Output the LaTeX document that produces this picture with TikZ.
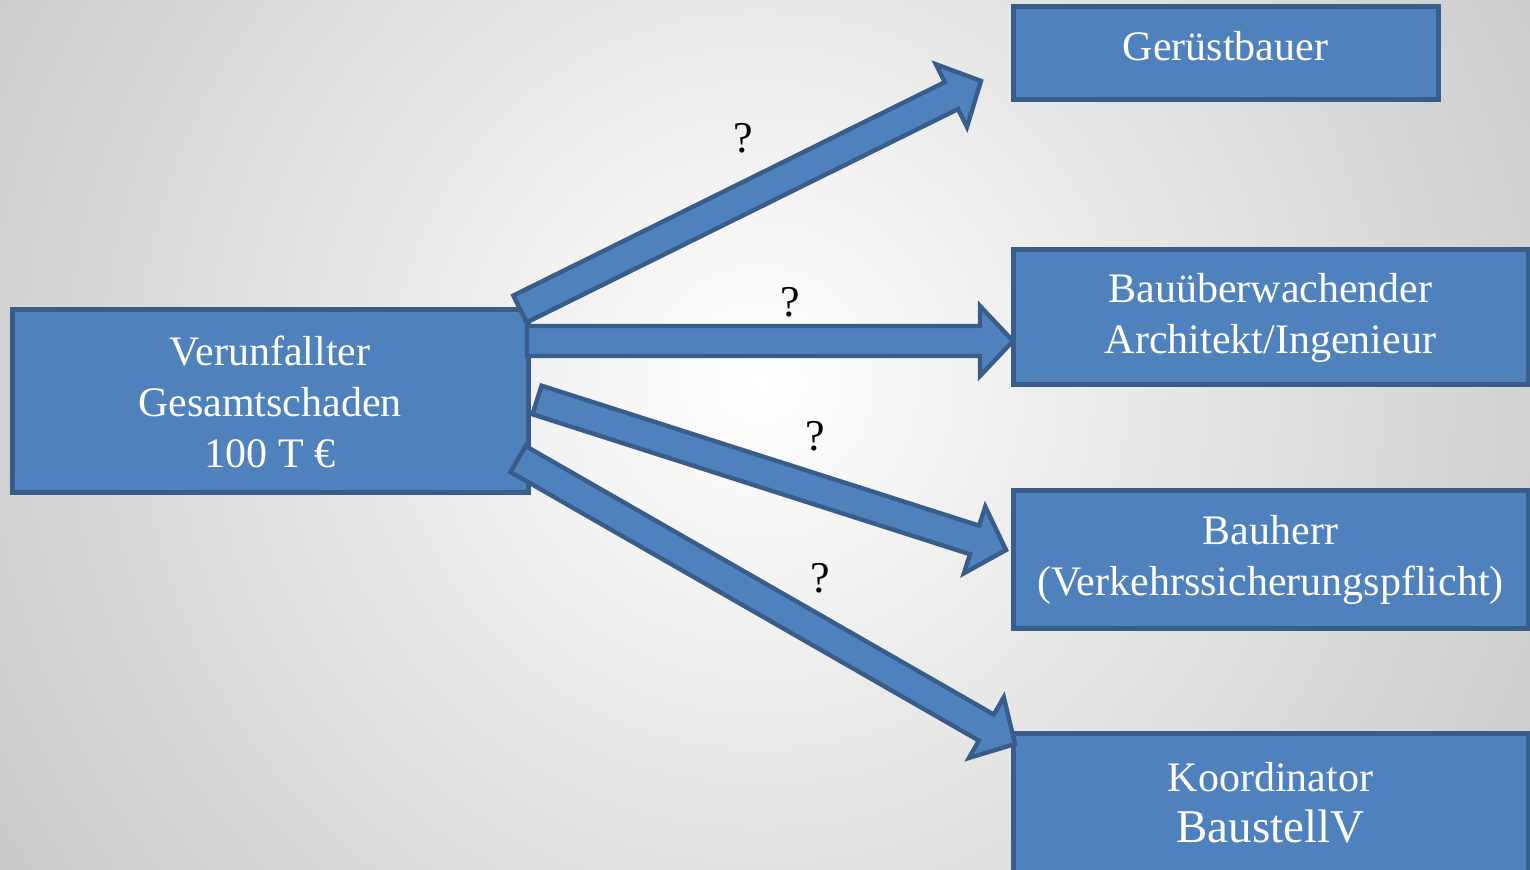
\documentclass[tikz,border=0pt]{standalone}
\usepackage{fontspec}
\setmainfont{Liberation Serif}
\usetikzlibrary{calc}

\definecolor{kasten}{HTML}{4F81BD}
\definecolor{rahmen}{HTML}{385D8A}

% Blockpfeil von #1 nach #2
\newcommand{\blockpfeil}[2]{%
  \coordinate (kopf) at ($(#2)!16.5pt!(#1)$);
  \draw[pfeil] ($(#1)!7.5pt!90:(#2)$) -- ($(kopf)!7.5pt!90:(#2)$)
    -- ($(kopf)!17.5pt!90:(#2)$) -- (#2)
    -- ($(kopf)!17.5pt!-90:(#2)$) -- ($(kopf)!7.5pt!-90:(#2)$)
    -- ($(#1)!7.5pt!-90:(#2)$) -- cycle;
}

\begin{document}
\begin{tikzpicture}[x=0.5pt, y=-0.5pt,
  box/.style = {draw=rahmen, fill=kasten, line width=2.5pt, text=white,
    align=center, inner sep=0pt, outer sep=0pt, anchor=north west,
    font=\fontsize{21}{25.5}\selectfont},
  pfeil/.style = {draw=rahmen, fill=kasten, line width=2.2pt, line join=miter},
  frage/.style = {font=\fontsize{22}{26}\selectfont}]
  % Hintergrund
  \useasboundingbox (0,0) rectangle (1530,870);
  \begin{scope}
    \clip (0,0) rectangle (1530,870);
    \shade[inner color=white, outer color=gray!70] (760,380) circle (760pt);
  \end{scope}

  % Kaesten
  \node[box, minimum width=258pt, minimum height=91.5pt] (opfer) at (12,310)
    {Verunfallter\\Gesamtschaden\\100 T €};
  \node[box, minimum width=212.5pt, minimum height=46.5pt, text depth=8pt] (geruest) at (1013,7)
    {Gerüstbauer};
  \node[box, minimum width=257.5pt, minimum height=67.5pt] (architekt) at (1013,250)
    {Bauüberwachender\\Architekt/Ingenieur};
  \node[box, minimum width=257.5pt, minimum height=69pt] (bauherr) at (1013,491)
    {Bauherr\\(Verkehrssicherungspflicht)};
  \node[box, minimum width=257.5pt, minimum height=70pt] (koord) at (1013,733)
    {Koordinator\\{\fontsize{23.5}{28}\selectfont BaustellV}};

  % Pfeile
  \coordinate (a1) at (520,309);  \coordinate (z1) at (981,81);
  \coordinate (a2) at (527,341);  \coordinate (z2) at (1013,341);
  \coordinate (a3) at (537,400);  \coordinate (z3) at (1006,550);
  \coordinate (a4) at (518,459);  \coordinate (z4) at (1015,744);
  \blockpfeil{a1}{z1}
  \blockpfeil{a2}{z2}
  \blockpfeil{a3}{z3}
  \blockpfeil{a4}{z4}

  \node[frage] (f1) at (743,138) {?};
  \node[frage] (f2) at (790,302) {?};
  \node[frage] (f3) at (815,436) {?};
  \node[frage] (f4) at (820,578) {?};
\end{tikzpicture}
\end{document}
